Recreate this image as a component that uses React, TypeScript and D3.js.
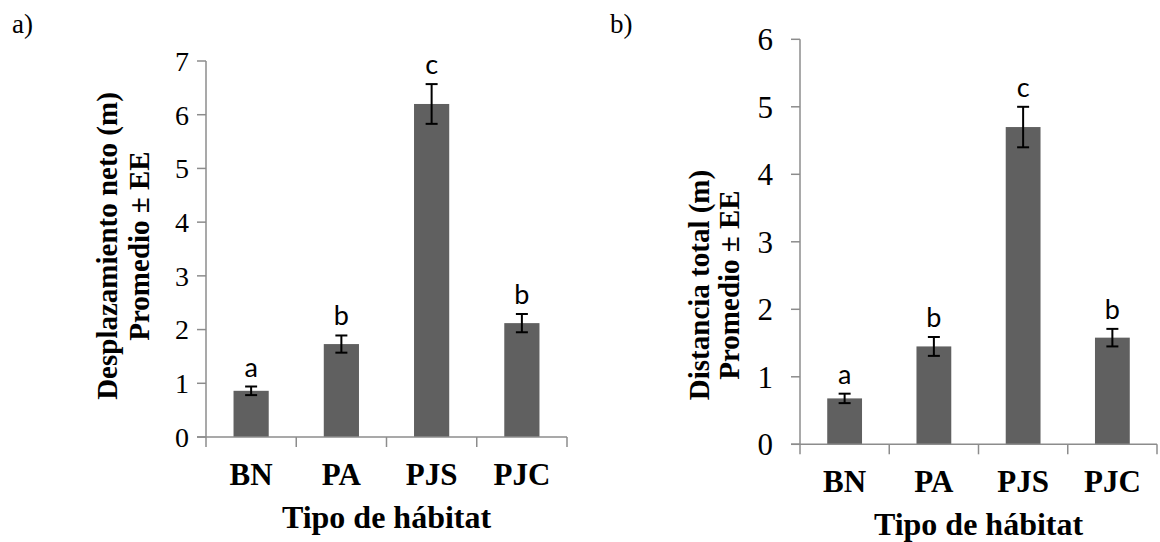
import React from 'react';
import { scaleBand, scaleLinear, range } from 'd3';

// habitat types and the group letters from the post-hoc test
const categories = ['BN', 'PA', 'PJS', 'PJC'];
const groupLetters = ['a', 'b', 'c', 'b'];

// a) net displacement (m), mean and standard error
const netMeans = [0.86, 1.73, 6.2, 2.12];
const netErrors = [0.08, 0.16, 0.37, 0.17];

// b) total distance (m), mean and standard error
const totalMeans = [0.68, 1.45, 4.7, 1.58];
const totalErrors = [0.07, 0.14, 0.3, 0.13];

const yTicksA = range(0, 8);
const yTicksB = range(0, 7);

const SERIF = '"Liberation Serif", "Times New Roman", serif';
const SANS = 'Lato, "Open Sans", sans-serif';
const AXIS = '#8c8c8c';
const BAR = '#606060';

type PanelProps = {
  tag: string;
  tagX: number;
  means: number[];
  errors: number[];
  ticks: number[];
  x0: number;
  x1: number;
  yTop: number;
  yBottom: number;
  tickFont: number;
  tickRight: number;
  titleLines: string[];
  titleX: number[];
  titleY: number;
};

const Panel = (p: PanelProps) => {
  const x = scaleBand<string>().domain(categories).range([p.x0, p.x1]);
  const y = scaleLinear()
    .domain([0, p.ticks[p.ticks.length - 1]])
    .range([p.yBottom, p.yTop]);
  const barW = x.bandwidth() * 0.39;
  const mid = (p.x0 + p.x1) / 2;

  return (
    <g>
      <text x={p.tagX} y={33} fontFamily={SERIF} fontSize={27}>
        {p.tag}
      </text>

      {/* bars */}
      {categories.map((c, i) => (
        <rect
          key={c}
          x={x(c)! + x.bandwidth() / 2 - barW / 2}
          y={y(p.means[i])}
          width={barW}
          height={y(0) - y(p.means[i])}
          fill={BAR}
        />
      ))}

      {/* axes */}
      <line x1={p.x0} x2={p.x0} y1={p.yTop} y2={p.yBottom + 10} stroke={AXIS} strokeWidth={1.5} />
      <line x1={p.x0 - 9} x2={p.x1} y1={p.yBottom} y2={p.yBottom} stroke={AXIS} strokeWidth={1.5} />
      {p.ticks.map((t) => (
        <g key={t}>
          <line x1={p.x0 - 9} x2={p.x0} y1={y(t)} y2={y(t)} stroke={AXIS} strokeWidth={1.5} />
          <text
            x={p.tickRight}
            y={y(t)}
            dy="0.35em"
            textAnchor="end"
            fontFamily={SERIF}
            fontSize={p.tickFont}
          >
            {t}
          </text>
        </g>
      ))}
      {categories.map((c) => (
        <line
          key={c}
          x1={x(c)! + x.bandwidth()}
          x2={x(c)! + x.bandwidth()}
          y1={p.yBottom}
          y2={p.yBottom + 10}
          stroke={AXIS}
          strokeWidth={1.5}
        />
      ))}

      {/* error bars and letters */}
      {categories.map((c, i) => {
        const cx = x(c)! + x.bandwidth() / 2;
        const hi = y(p.means[i] + p.errors[i]);
        const lo = y(p.means[i] - p.errors[i]);
        return (
          <g key={c}>
            <line x1={cx} x2={cx} y1={hi} y2={lo} stroke="#000" strokeWidth={2} />
            <line x1={cx - 6} x2={cx + 6} y1={hi} y2={hi} stroke="#000" strokeWidth={2} />
            <line x1={cx - 6} x2={cx + 6} y1={lo} y2={lo} stroke="#000" strokeWidth={2} />
            <text x={cx} y={hi - 10} textAnchor="middle" fontFamily={SANS} fontSize={27}>
              {groupLetters[i]}
            </text>
          </g>
        );
      })}

      {/* category labels */}
      {categories.map((c) => (
        <text
          key={c}
          x={x(c)! + x.bandwidth() / 2}
          y={p.yBottom + 48}
          textAnchor="middle"
          fontFamily={SERIF}
          fontWeight="bold"
          fontSize={31}
        >
          {c}
        </text>
      ))}
      <text
        x={mid}
        y={p.yBottom + 91}
        textAnchor="middle"
        fontFamily={SERIF}
        fontWeight="bold"
        fontSize={32}
      >
        Tipo de hábitat
      </text>

      {/* y title, two lines */}
      {p.titleLines.map((line, k) => (
        <text
          key={k}
          transform={`translate(${p.titleX[k]},${p.titleY}) rotate(-90)`}
          textAnchor="middle"
          fontFamily={SERIF}
          fontWeight="bold"
          fontSize={29}
        >
          {line}
        </text>
      ))}
    </g>
  );
};

export default function App() {
  return (
    <svg
      width={1160}
      height={542}
      style={{ position: 'absolute', left: 0, top: 0, background: '#fff' }}
    >
      <Panel
        tag="a)"
        tagX={12}
        means={netMeans}
        errors={netErrors}
        ticks={yTicksA}
        x0={206}
        x1={567}
        yTop={61}
        yBottom={437}
        tickFont={28}
        tickRight={189}
        titleLines={['Desplazamiento neto (m)', 'Promedio ± EE']}
        titleX={[117, 149]}
        titleY={246}
      />
      <Panel
        tag="b)"
        tagX={610}
        means={totalMeans}
        errors={totalErrors}
        ticks={yTicksB}
        x0={800}
        x1={1157}
        yTop={39.3}
        yBottom={444.3}
        tickFont={31}
        tickRight={773}
        titleLines={['Distancia total (m)', 'Promedio ± EE']}
        titleX={[709, 739]}
        titleY={285}
      />
    </svg>
  );
}
